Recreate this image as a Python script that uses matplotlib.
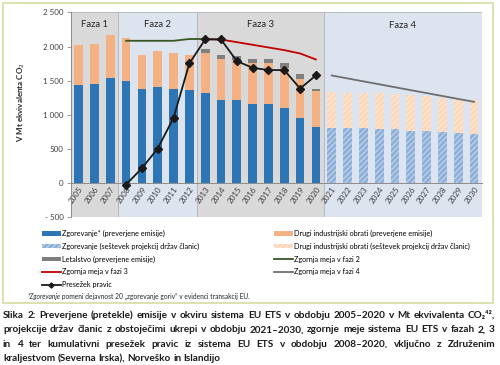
import matplotlib
matplotlib.use('Agg')
import matplotlib.pyplot as plt
from matplotlib.patches import Patch, Rectangle
from matplotlib.lines import Line2D

plt.rcParams['font.family'] = ['Lato', 'DejaVu Sans']
plt.rcParams['hatch.linewidth'] = 0.7

# ---- data (Mt CO2 eq.) ----
years = list(range(2005, 2031))
yr_hist = years[:16]          # 2005-2020
yr_proj = years[16:]          # 2021-2030

comb_verified = [1438, 1453, 1541, 1492, 1370, 1399, 1370, 1355,
                 1316, 1218, 1213, 1164, 1159, 1096, 949, 817]
other_verified = [582, 582, 626, 626, 504, 538, 533, 514,
                  582, 592, 587, 587, 597, 587, 572, 533]
aviation = [64, 59, 59, 64, 64, 68, 74, 34]          # 2013-2020
comb_proj = [807, 807, 802, 793, 783, 768, 758, 744, 729, 714]
other_proj = [524, 514, 514, 518, 518, 514, 514, 508, 504, 504]

cap2_years = [2008, 2009, 2010, 2011, 2012, 2013]
cap2 = [2084, 2084, 2084, 2084, 2110, 2110]
cap3_years = list(range(2013, 2021))
cap3 = [2110, 2102, 2064, 2025, 1986, 1947, 1898, 1810]
cap4 = [1575, 1532, 1489, 1446, 1403, 1360, 1317, 1274, 1231, 1189]
surplus_years = list(range(2008, 2021))
surplus = [-24, 215, 504, 954, 1751, 2104, 2104, 1786, 1688, 1654, 1654, 1384, 1575]

phases = ['Faza 1', 'Faza 2', 'Faza 3', 'Faza 4']
phase_span = [(2005, 2007), (2008, 2012), (2013, 2020), (2021, 2030)]

# ---- colours ----
c_blue = '#2e75b6'
c_orange = '#f4b183'
c_avi = '#7f7f7f'
c_blue_p = '#8eb0d8'
c_orange_p = '#fbd8bb'
c_gray_bg = '#d9d9d9'
c_blue_bg = '#dce4ef'

fig = plt.figure(figsize=(5, 3.65), dpi=100)
ax = fig.add_axes([0.1414, 0.4055, 0.8226, 0.5605])
# x axis crosses at 0 (set before tick labels, it resets the ticks)
ax.spines['bottom'].set_position(('data', 0))

idx = {y: i for i, y in enumerate(years)}
xh = [idx[y] for y in yr_hist]
xp = [idx[y] for y in yr_proj]
w = 0.55

# phase backgrounds
for k, (a, b) in enumerate(phase_span):
    bg = c_gray_bg if k % 2 == 0 else c_blue_bg
    ax.axvspan(idx[a] - 0.5, idx[b] + 0.5, facecolor=bg, edgecolor='#b5b5b5',
               linewidth=0.6, zorder=0)
    ytxt = 2330 if k < 3 else 2310
    ax.text((idx[a] + idx[b]) / 2, ytxt, phases[k], ha='center', va='center',
            fontsize=6.8, color='#262626', zorder=5)

# bars
ax.bar(xh, comb_verified, w, color=c_blue, zorder=2)
ax.bar(xh, other_verified, w, bottom=comb_verified, color=c_orange, zorder=2)
tops = [c + o for c, o in zip(comb_verified, other_verified)]
xa = [idx[y] for y in cap3_years]
ax.bar(xa, aviation, w, bottom=tops[8:], color=c_avi, zorder=2)
ax.bar(xp, comb_proj, w, color=c_blue_p, edgecolor='#c9daee', hatch='//////',
       linewidth=0, zorder=2)
ax.bar(xp, other_proj, w, bottom=comb_proj, color=c_orange_p, edgecolor='#fdeadb',
       hatch='//////', linewidth=0, zorder=2)

# lines
ax.plot([idx[y] for y in cap2_years], cap2, color='#375623', lw=1.3, zorder=3)
ax.plot([idx[y] for y in cap3_years], cap3, color='#c00000', lw=1.3, zorder=3)
ax.plot(xp, cap4, color='#6e6e6e', lw=1.3, zorder=3)
ax.plot([idx[y] for y in surplus_years], surplus, color='#1a1a1a', lw=1.3,
        marker='D', markersize=3.6, zorder=4)

# axes
ax.set_xlim(-0.5, len(years) - 0.5)
ax.set_ylim(-500, 2500)
ax.set_yticks(range(-500, 2501, 500))
ax.set_yticklabels([('- 500' if v < 0 else f'{v:,}'.replace(',', ' '))
                    for v in range(-500, 2501, 500)])
ax.set_xticks(range(len(years)))
ax.set_xticklabels([str(y) for y in years], rotation=55, ha='right',
                   rotation_mode='anchor')
for s in ['top', 'right']:
    ax.spines[s].set_visible(False)
ax.spines['bottom'].set_color('#8c8c8c')
ax.spines['left'].set_color('#8c8c8c')
ax.spines['bottom'].set_linewidth(0.7)
ax.spines['left'].set_linewidth(0.7)
ax.tick_params(axis='x', length=0, pad=2, labelsize=5.8, colors='#404040')
ax.tick_params(axis='y', length=3, width=0.6, color='#8c8c8c', pad=2,
               labelsize=5.8, labelcolor='#404040')
ax.set_facecolor('none')

fig.text(0.042, 0.72, 'V Mt ekvivalenta CO$_2$', rotation=90, ha='center',
         va='center', fontsize=5.8, fontweight='bold', color='#262626')

# outer frame
fig.patches.append(Rectangle((0.006, 0.170), 0.980, 0.822, transform=fig.transFigure,
                             fill=False, edgecolor='#d6dca0', linewidth=1.2))

# legends
hl = [Patch(facecolor=c_blue),
      Patch(facecolor=c_blue_p, edgecolor='#c9daee', hatch='//////', linewidth=0),
      Patch(facecolor=c_avi),
      Line2D([], [], color='#c00000', lw=1.3),
      Line2D([], [], color='#1a1a1a', lw=1.3, marker='D', markersize=2.6)]
ll = ['Zgorevanje* (preverjene emisije)',
      'Zgorevanje (seštevek projekcij držav članic)',
      'Letalstvo (preverjene emisije)',
      'Zgornja meja v fazi 3',
      'Presežek pravic']
hr = [Patch(facecolor=c_orange),
      Patch(facecolor=c_orange_p, edgecolor='#fdeadb', hatch='//////', linewidth=0),
      Line2D([], [], color='#375623', lw=1.3),
      Line2D([], [], color='#6e6e6e', lw=1.3)]
lr = ['Drugi industrijski obrati (preverjene emisije)',
      'Drugi industrijski obrati (seštevek projekcij držav članic)',
      'Zgornja meja v fazi 2',
      'Zgornja meja v fazi 4']
kw = dict(frameon=False, fontsize=5.2, handlelength=2.6, handleheight=0.55,
          handletextpad=0.2, labelspacing=0.78, borderaxespad=0, borderpad=0)
leg1 = fig.legend(hl, ll, loc='upper left', bbox_to_anchor=(0.084, 0.370), **kw)
leg2 = fig.legend(hr, lr, loc='upper left', bbox_to_anchor=(0.548, 0.370), **kw)

# footnote: "*" + italic word + rest
renderer = fig.canvas.get_renderer()
W = fig.bbox.width
fy = 1 - 296 / 365
t1 = fig.text(27 / W, fy, '*Zgorevanje', fontsize=4.8, style='italic',
              va='center', color='#262626')
x1 = t1.get_window_extent(renderer).x1
fig.text(x1 / W, fy, ' pomeni dejavnost 20 „zgorevanje goriv“ v evidenci transakcij EU.',
         fontsize=4.8, va='center', color='#262626')

# caption, justified
caption = ['Slika 2: Preverjene (pretekle) emisije v okviru sistema EU ETS v obdobju '
           '2005–2020 v Mt ekvivalenta CO₂⁴²,',
           'projekcije držav članic z obstoječimi ukrepi v obdobju 2021–2030, zgornje '
           'meje sistema EU ETS v fazah 2, 3',
           'in 4 ter kumulativni presežek pravic iz sistema EU ETS v obdobju 2008–2020, '
           'vključno z Združenim',
           'kraljestvom (Severna Irska), Norveško in Islandijo']
cap_y = [315, 330, 344.5, 358.5]
cap_fs = 7.2
xl, xr = 3, 495
space = fig.text(0, 0, ' ', fontsize=cap_fs, fontweight='bold')
space_w = space.get_window_extent(renderer).width
space.remove()
for i, line in enumerate(caption):
    y = 1 - cap_y[i] / 365
    words = line.split(' ')
    objs = [fig.text(0, y, wd, fontsize=cap_fs, fontweight='bold', va='center',
                     color='#1a1a1a', family=['Lato', 'DejaVu Sans']) for wd in words]
    widths = [o.get_window_extent(renderer).width for o in objs]
    if i < len(caption) - 1:
        gap = max((xr - xl - sum(widths)) / (len(words) - 1), 1.0)
    else:
        gap = space_w
    x = xl
    for o, wd in zip(objs, widths):
        o.set_x(x / W)
        x += wd + gap

fig.savefig('out.png', dpi=100)
